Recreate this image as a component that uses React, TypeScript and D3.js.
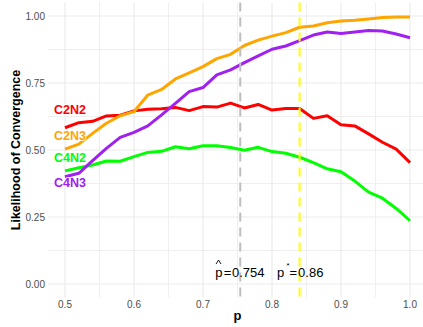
import React from "react";
import * as d3 from "d3";

const pValues = [0.50, 0.52, 0.54, 0.56, 0.58, 0.60, 0.62, 0.64, 0.66, 0.68, 0.70, 0.72, 0.74, 0.76, 0.78, 0.80, 0.82, 0.84, 0.86, 0.88, 0.90, 0.92, 0.94, 0.96, 0.98, 1.00];
const c2n2 = [0.583, 0.602, 0.607, 0.627, 0.630, 0.646, 0.652, 0.654, 0.659, 0.647, 0.662, 0.660, 0.675, 0.657, 0.670, 0.649, 0.655, 0.655, 0.618, 0.628, 0.594, 0.590, 0.560, 0.529, 0.503, 0.453];
const c2n3 = [0.503, 0.522, 0.562, 0.600, 0.628, 0.643, 0.705, 0.726, 0.765, 0.788, 0.811, 0.841, 0.857, 0.890, 0.910, 0.925, 0.938, 0.958, 0.963, 0.975, 0.981, 0.984, 0.989, 0.994, 0.996, 0.996];
const c4n2 = [0.422, 0.434, 0.444, 0.459, 0.458, 0.475, 0.491, 0.495, 0.512, 0.505, 0.516, 0.516, 0.509, 0.499, 0.510, 0.494, 0.488, 0.473, 0.453, 0.430, 0.419, 0.384, 0.343, 0.320, 0.282, 0.236];
const c4n3 = [0.400, 0.413, 0.460, 0.506, 0.547, 0.566, 0.590, 0.631, 0.674, 0.718, 0.733, 0.780, 0.799, 0.826, 0.851, 0.876, 0.888, 0.908, 0.929, 0.940, 0.935, 0.940, 0.946, 0.944, 0.933, 0.919];

const seriesNames = ["C2N2", "C2N3", "C4N2", "C4N3"];
const seriesValues = [c2n2, c2n3, c4n2, c4n3];
const seriesColors = ["#ff0000", "#ffa500", "#00ff00", "#a020f0"];
const labelY = [0.65, 0.555, 0.472, 0.377];

const xTicks = [0.5, 0.6, 0.7, 0.8, 0.9, 1.0];
const xMinor = [0.55, 0.65, 0.75, 0.85, 0.95];
const yTicks = [0, 0.25, 0.5, 0.75, 1.0];
const yMinor = [0.125, 0.375, 0.625, 0.875];

const pHat = 0.754;
const pStarLine = 0.84;
const pStarLabel = "0.86";
const pHatLabel = "0.754";
const annotY = 0.026;

const W = 423;
const H = 327;
const FONT = "'Liberation Sans', Arial, Helvetica, sans-serif";

export default function App() {
  const x = d3.scaleLinear().domain([0.5, 1.0]).range([65, 410]);
  const y = d3.scaleLinear().domain([0, 1]).range([284, 16]);
  const panelLeft = x(0.475);
  const panelRight = W;
  const panelTop = y(1.05);
  const panelBottom = y(-0.05);

  const line = d3
    .line<number>()
    .x((_, i) => x(pValues[i]))
    .y((d) => y(d));

  const grid = "#ebebeb";
  const xh = x(pHat);
  const xs = x(pStarLine);
  const ay = y(annotY);

  return (
    <svg
      width={W}
      height={H}
      style={{ position: "absolute", left: 0, top: 0, background: "#fff" }}
      fontFamily={FONT}
    >
      <rect x={0} y={0} width={W} height={H} fill="#fff" />
      {/* minor grid */}
      {xMinor.map((v) => (
        <line key={"xm" + v} x1={x(v)} x2={x(v)} y1={panelTop} y2={panelBottom} stroke={grid} strokeWidth={0.8} />
      ))}
      {yMinor.map((v) => (
        <line key={"ym" + v} x1={panelLeft} x2={panelRight} y1={y(v)} y2={y(v)} stroke={grid} strokeWidth={0.8} />
      ))}
      {/* major grid */}
      {xTicks.map((v) => (
        <line key={"xg" + v} x1={x(v)} x2={x(v)} y1={panelTop} y2={panelBottom} stroke={grid} strokeWidth={1.2} />
      ))}
      {yTicks.map((v) => (
        <line key={"yg" + v} x1={panelLeft} x2={panelRight} y1={y(v)} y2={y(v)} stroke={grid} strokeWidth={1.2} />
      ))}

      {/* series */}
      {seriesValues.map((vals, i) => (
        <path
          key={seriesNames[i]}
          d={line(vals) || ""}
          fill="none"
          stroke={seriesColors[i]}
          strokeWidth={3}
          strokeLinejoin="round"
        />
      ))}

      {/* vertical reference lines */}
      <line x1={xh} x2={xh} y1={panelTop} y2={panelBottom} stroke="#bebebe" strokeWidth={2} strokeDasharray="9,6" />
      <line x1={xs} x2={xs} y1={panelTop} y2={panelBottom} stroke="#ffff00" strokeWidth={2} strokeDasharray="9,6" />

      {/* series labels */}
      {seriesNames.map((n, i) => (
        <text
          key={"lab" + n}
          x={54}
          y={y(labelY[i])}
          dy="0.36em"
          fontSize={12.5}
          fontWeight="bold"
          fill={seriesColors[i]}
          stroke="#fff"
          strokeWidth={1.5}
          paintOrder="stroke"
        >
          {n}
        </text>
      ))}

      {/* annotations */}
      <g fontSize={13} fill="#000">
        <text x={xh - 25} y={ay}>p</text>
        <path d={`M${xh - 24.2},${ay - 13} L${xh - 21.7},${ay - 17} L${xh - 19.2},${ay - 13}`} fill="none" stroke="#000" strokeWidth={0.9} />
        <text x={xh - 16.5} y={ay}>=</text>
        <text x={xh - 8.3} y={ay}>{pHatLabel}</text>

        <text x={xs - 22.5} y={ay}>p</text>
        <text x={xs - 13.2} y={ay - 9.5} fontSize={8}>*</text>
        <text x={xs - 10} y={ay}>=</text>
        <text x={xs - 1.5} y={ay}>{pStarLabel}</text>
      </g>

      {/* axis tick labels */}
      {xTicks.map((v) => (
        <text key={"xt" + v} x={x(v)} y={307.5} textAnchor="middle" fontSize={10} fill="#4d4d4d">
          {v.toFixed(1)}
        </text>
      ))}
      {yTicks.map((v) => (
        <text key={"yt" + v} x={45} y={y(v)} dy="0.36em" textAnchor="end" fontSize={10} fill="#4d4d4d">
          {v.toFixed(2)}
        </text>
      ))}

      {/* axis titles */}
      <text x={(panelLeft + 427) / 2} y={320} textAnchor="middle" fontSize={13} fontWeight="bold" fill="#000">
        p
      </text>
      <text
        transform={`translate(19.5,${(panelTop + panelBottom) / 2}) rotate(-90)`}
        textAnchor="middle"
        fontSize={12.5}
        fontWeight="bold"
        fill="#000"
      >
        Likelihood of Convergence
      </text>
    </svg>
  );
}
